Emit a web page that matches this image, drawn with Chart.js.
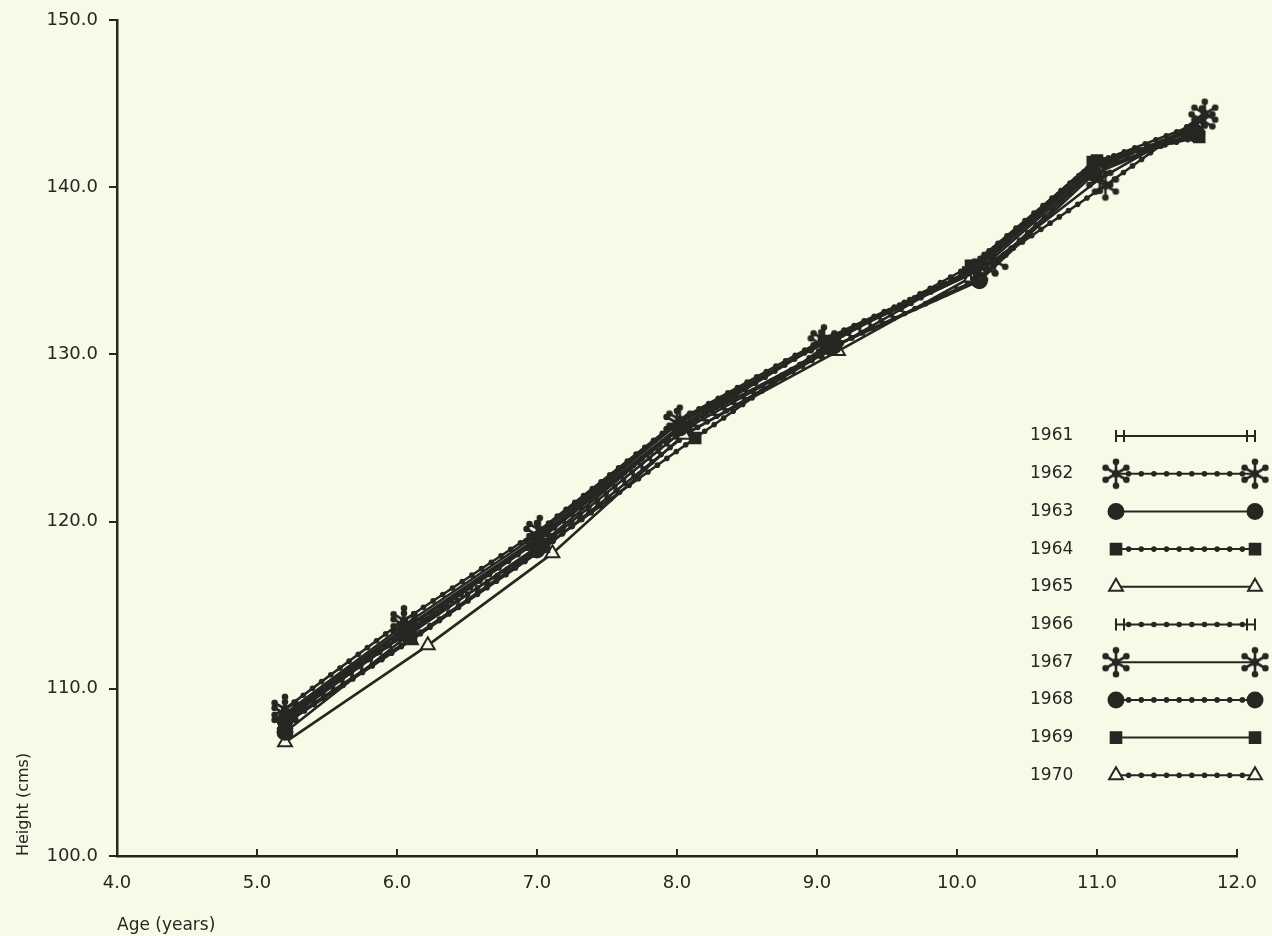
<!DOCTYPE html>
<html>
<head>
<meta charset="utf-8">
<script src="https://cdn.jsdelivr.net/npm/chart.js@4/dist/chart.umd.min.js"></script>
<style>
  body { margin: 0; background: #f8fae7; }
  #wrap { width: 1272px; height: 936px; position: relative; }
</style>
</head>
<body>
<div id="wrap"><canvas id="growthChart"></canvas></div>
<script>
// Height by age, one series per survey year

const years = ["1961", "1962", "1963", "1964", "1965", "1966", "1967", "1968", "1969", "1970"];

const xTicks = [4, 5, 6, 7, 8, 9, 10, 11, 12];
const yTicks = [100, 110, 120, 130, 140, 150];

// ages (years)
const ages1961 = [5.2, 6.05, 7.0, 8.0, 9.05, 10.1, 10.95, 11.7];
const ages1962 = [5.2, 6.05, 7.02, 8.02, 9.05, 10.27, 11.06, 11.77];
const ages1963 = [5.2, 6.08, 7.02, 8.02, 9.12, 10.16, 10.98, 11.7];
const ages1964 = [5.2, 6.1, 7.05, 8.13, 9.08, 10.1, 11.0, 11.73];
const ages1965 = [5.2, 6.22, 7.11, 8.05, 9.15, 10.1, 11.0, 11.7];
const ages1966 = [5.2, 6.05, 7.0, 8.0, 9.05, 10.12, 10.97, 11.72];
const ages1967 = [5.2, 6.05, 7.0, 8.0, 9.03, 10.2, 11.02, 11.75];
const ages1968 = [5.2, 6.08, 7.0, 8.05, 9.1, 10.15, 10.98, 11.7];
const ages1969 = [5.2, 6.05, 7.0, 8.02, 9.05, 10.08, 10.97, 11.72];
const ages1970 = [5.2, 6.1, 7.05, 8.08, 9.1, 10.1, 10.98, 11.7];

// heights (cms)
const h1961 = [108.4, 113.6, 119.0, 125.8, 130.7, 134.8, 141.0, 143.6];
const h1962 = [108.8, 114.1, 119.5, 126.1, 130.9, 135.6, 140.1, 144.4];
const h1963 = [107.4, 113.2, 118.6, 125.6, 130.5, 134.4, 140.8, 143.3];
const h1964 = [108.0, 113.0, 118.5, 125.0, 130.6, 135.3, 141.6, 143.0];
const h1965 = [106.8, 112.6, 118.1, 125.2, 130.2, 134.6, 141.2, 143.5];
const h1966 = [108.2, 113.3, 118.8, 125.4, 130.8, 135.0, 141.4, 143.8];
const h1967 = [108.5, 113.8, 119.2, 125.9, 130.6, 135.2, 140.5, 144.0];
const h1968 = [108.1, 113.4, 118.3, 125.5, 130.4, 134.5, 141.0, 143.2];
const h1969 = [108.3, 113.5, 118.9, 125.7, 130.8, 134.9, 141.5, 143.1];
const h1970 = [107.9, 112.9, 118.4, 125.3, 130.3, 135.1, 141.3, 143.4];

const allAges = [ages1961, ages1962, ages1963, ages1964, ages1965, ages1966, ages1967, ages1968, ages1969, ages1970];
const allHeights = [h1961, h1962, h1963, h1964, h1965, h1966, h1967, h1968, h1969, h1970];

const INK = "#262622";
const PAPER = "#f8fae7";
const FONT = "'DejaVu Sans', 'Liberation Sans', sans-serif";

// six-armed asterisk marker with blobbed ends
function makeAsterisk(size) {
  const c = document.createElement("canvas");
  c.width = size;
  c.height = size;
  const g = c.getContext("2d");
  const r = size / 2;
  g.translate(r, r);
  g.strokeStyle = INK;
  g.fillStyle = INK;
  g.lineWidth = 2.6;
  for (let i = 0; i < 6; i++) {
    const a = (Math.PI / 3) * i + Math.PI / 2;
    const ex = Math.cos(a) * (r - 4);
    const ey = Math.sin(a) * (r - 4);
    g.beginPath();
    g.moveTo(0, 0);
    g.lineTo(ex, ey);
    g.stroke();
    g.beginPath();
    g.arc(ex, ey, 3.3, 0, Math.PI * 2);
    g.fill();
  }
  g.beginPath();
  g.arc(0, 0, 4, 0, Math.PI * 2);
  g.fill();
  return c;
}
const asterisk = makeAsterisk(32);

// marker + line style for each year (the key repeats in two halves)
const markerStyles = [
  { pointStyle: "line", rotation: 90, radius: 6, fill: false },
  { pointStyle: asterisk, rotation: 0, radius: 16, fill: true },
  { pointStyle: "circle", rotation: 0, radius: 7.5, fill: true },
  { pointStyle: "rect", rotation: 0, radius: 7.5, fill: true },
  { pointStyle: "triangle", rotation: 0, radius: 8, fill: false },
];
const beaded = [false, true, false, true, false, true, false, true, false, true];

const datasets = years.map((yr, i) => {
  const m = markerStyles[i % 5];
  return {
    label: yr,
    data: allAges[i].map((a, j) => ({ x: a, y: allHeights[i][j] })),
    showLine: true,
    borderColor: INK,
    borderWidth: 2.6,
    backgroundColor: m.fill ? INK : PAPER,
    pointStyle: m.pointStyle,
    rotation: m.rotation,
    pointRadius: m.radius,
    pointBorderWidth: 2,
    pointBorderColor: INK,
    pointBackgroundColor: m.fill ? INK : PAPER,
    beaded: beaded[i],
    tension: 0,
  };
});

// small dots strung along a segment
function drawBeads(ctx, x1, y1, x2, y2, step) {
  const len = Math.hypot(x2 - x1, y2 - y1);
  const n = Math.floor(len / step);
  for (let k = 1; k < n; k++) {
    const t = k / n;
    ctx.beginPath();
    ctx.arc(x1 + (x2 - x1) * t, y1 + (y2 - y1) * t, 2.8, 0, Math.PI * 2);
    ctx.fill();
  }
}

const beadPlugin = {
  id: "beads",
  afterDatasetsDraw(chart) {
    const ctx = chart.ctx;
    ctx.save();
    ctx.fillStyle = INK;
    chart.data.datasets.forEach((ds, i) => {
      if (!ds.beaded) return;
      const pts = chart.getDatasetMeta(i).data;
      for (let j = 0; j < pts.length - 1; j++) {
        drawBeads(ctx, pts[j].x, pts[j].y, pts[j + 1].x, pts[j + 1].y, 11);
      }
    });
    ctx.restore();
  },
};

// x ticks point up into the plot
const innerTicks = {
  id: "innerTicks",
  afterDraw(chart) {
    const ctx = chart.ctx;
    const sx = chart.scales.x;
    ctx.save();
    ctx.strokeStyle = INK;
    ctx.lineWidth = 2;
    xTicks.forEach((v) => {
      const px = sx.getPixelForValue(v);
      ctx.beginPath();
      ctx.moveTo(px, sx.top);
      ctx.lineTo(px, sx.top - 7);
      ctx.stroke();
    });
    ctx.restore();
  },
};

// key drawn in the lower right of the plot
const keyPlugin = {
  id: "key",
  afterDraw(chart) {
    const ctx = chart.ctx;
    const textX = 1030;
    const lineL = 1116;
    const lineR = 1255;
    const top = 436;
    const gap = 37.7;
    ctx.save();
    chart.data.datasets.forEach((ds, i) => {
      const y = top + i * gap;
      ctx.fillStyle = INK;
      ctx.font = "17px " + FONT;
      ctx.textAlign = "left";
      ctx.textBaseline = "middle";
      ctx.fillText(ds.label, textX, y);

      ctx.strokeStyle = INK;
      ctx.lineWidth = 2;
      ctx.beginPath();
      ctx.moveTo(lineL, y);
      ctx.lineTo(lineR, y);
      ctx.stroke();
      if (ds.beaded) drawBeads(ctx, lineL, y, lineR, y, 12);

      ctx.fillStyle = ds.pointBackgroundColor;
      ctx.strokeStyle = INK;
      const opts = {
        pointStyle: ds.pointStyle,
        rotation: ds.rotation,
        radius: ds.pointRadius,
        borderWidth: 2,
      };
      Chart.helpers.drawPoint(ctx, opts, lineL, y);
      Chart.helpers.drawPoint(ctx, opts, lineR, y);
      if (ds.pointStyle === "line") {
        // doubled bars at each end of the tick-mark key
        Chart.helpers.drawPoint(ctx, opts, lineL + 8, y);
        Chart.helpers.drawPoint(ctx, opts, lineR - 8, y);
      }
    });
    ctx.restore();
  },
};

const ctx = document.getElementById("growthChart").getContext("2d");

new Chart(ctx, {
  type: "scatter",
  data: { datasets: datasets },
  plugins: [beadPlugin, innerTicks, keyPlugin],
  options: {
    responsive: true,
    maintainAspectRatio: false,
    animation: false,
    events: [],
    layout: {
      padding: { top: 8, right: 35, left: 4, bottom: 0 },
    },
    plugins: {
      legend: { display: false },
      tooltip: { enabled: false },
      title: { display: false },
    },
    scales: {
      x: {
        type: "linear",
        min: 4,
        max: 12,
        afterBuildTicks: (scale) => {
          scale.ticks = xTicks.map((v) => ({ value: v }));
        },
        afterFit: (scale) => {
          scale.height = 80;
        },
        grid: { display: false },
        border: { display: true, color: INK, width: 2.5 },
        ticks: {
          color: INK,
          padding: 9,
          font: { family: FONT, size: 18 },
          maxRotation: 0,
          callback: (v) => Number(v).toFixed(1),
        },
        title: {
          display: true,
          text: "Age (years)",
          align: "start",
          color: INK,
          font: { family: FONT, size: 17 },
          padding: { top: 4, bottom: 0 },
        },
      },
      y: {
        type: "linear",
        min: 100,
        max: 150,
        afterBuildTicks: (scale) => {
          scale.ticks = yTicks.map((v) => ({ value: v }));
        },
        afterFit: (scale) => {
          scale.width = 113;
        },
        grid: {
          display: true,
          drawOnChartArea: false,
          drawTicks: true,
          tickLength: 8,
          color: INK,
          lineWidth: 2,
        },
        border: { display: true, color: INK, width: 2.5 },
        ticks: {
          color: INK,
          padding: 11,
          font: { family: FONT, size: 18, lineHeight: 1 },
          callback: (v) => Number(v).toFixed(1),
        },
        title: {
          display: true,
          text: "Height (cms)",
          align: "start",
          color: INK,
          font: { family: FONT, size: 16 },
          padding: { top: 10, bottom: 0 },
        },
      },
    },
  },
});
</script>
</body>
</html>
